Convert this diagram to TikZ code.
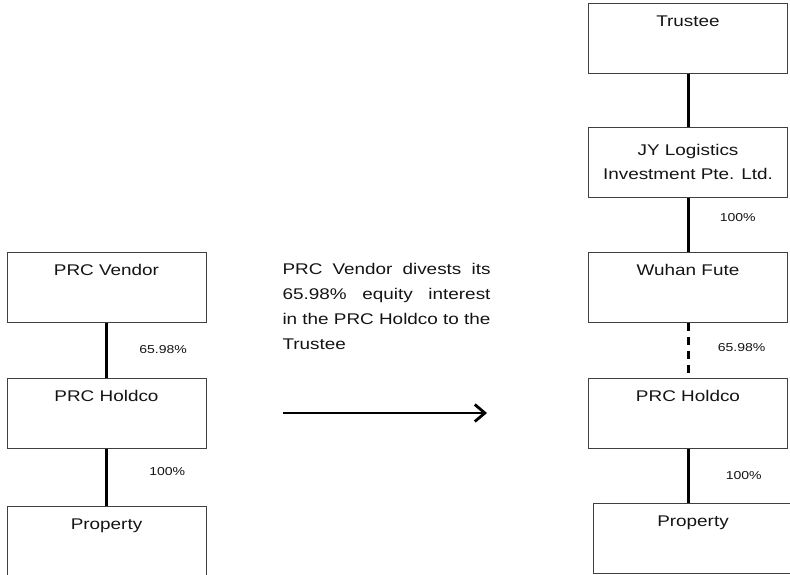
\documentclass[tikz,border=0pt]{standalone}
\usepackage{fontspec}
\setmainfont{Liberation Sans}[FakeStretch=1.22]
\usepackage{tikz}
\usetikzlibrary{arrows.meta,positioning}
\usepackage{xcolor}
\definecolor{txtgray}{HTML}{141414}
\definecolor{boxgray}{HTML}{404040}

\begin{document}
\begin{tikzpicture}[
  x=1pt, y=1pt,
  node distance=55pt,
  every node/.style={font=\fontsize{15.5}{19}\selectfont, text=txtgray},
  ent/.style={draw=boxgray, line width=1pt, minimum width=199pt, minimum height=70pt, align=center},
  toptext/.style={text height=11pt, text depth=35pt, inner ysep=0pt},
  own/.style={line width=3pt, black},
  pct/.style={font=\fontsize{11.5}{14}\selectfont},
  arr/.style={-{Straight Barb[length=10pt, width=17pt, line width=2.8pt]}, line width=2.8pt},
]
  \useasboundingbox (0,0) rectangle (790,-574);

  % before: left column
  \node[ent, toptext] at (106.5,-287) (lvendor) {PRC Vendor};
  \node[ent, toptext, below=of lvendor] (lholdco) {PRC Holdco};
  \node[ent, toptext, below=57pt of lholdco] (lprop) {Property};

  \draw[own] (lvendor) -- node[pct, right=28pt]{65.98\%} (lholdco);
  \draw[own] (lholdco) -- node[pct, right=38pt, yshift=5pt]{100\%} (lprop);

  % the step in between
  \node[text width=208pt, align=justify, inner sep=0pt, font=\fontsize{15.5}{25}\selectfont] at (386.5,-306) (note)
    {PRC Vendor divests its\linebreak 65.98\% equity interest\linebreak in the PRC Holdco to the\linebreak Trustee};
  \coordinate (a0) at (283,-413);
  \coordinate (a1) at (487,-413);
  \draw[arr] (a0) -- (a1);

  % after: right column
  \node[ent, toptext] at (688,-38) (rtrustee) {Trustee};
  \node[ent, below=53pt of rtrustee] (rjy) {JY Logistics\\[5pt]Investment Pte. Ltd.};
  \node[ent, toptext, below=54pt of rjy] (rwuhan) {Wuhan Fute};
  \node[ent, toptext, below=of rwuhan] (rholdco) {PRC Holdco};
  \node[ent, toptext, below=54pt of rholdco, xshift=5pt] (rprop) {Property};

  \draw[own] (rtrustee) -- (rjy);
  \draw[own] (rjy) -- node[pct, right=27pt, yshift=7pt]{100\%} (rwuhan);
  \draw[own, dash pattern=on 8pt off 6pt] (rwuhan) -- node[pct, right=25pt, yshift=2pt]{65.98\%} (rholdco);
  \draw[own] (rholdco.south) -- node[pct, right=33pt]{100\%} (rholdco.south |- rprop.north);
\end{tikzpicture}
\end{document}
